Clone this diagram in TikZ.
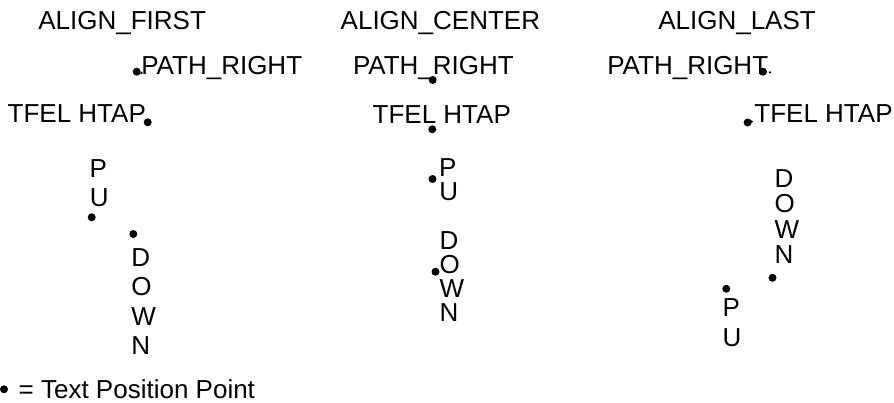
\documentclass[tikz,border=0pt]{standalone}
\usepackage{fontspec}
\setmainfont{Liberation Sans}
\begin{document}
\begin{tikzpicture}[x=1pt,y=-1pt,
  txt/.style={inner sep=0pt, outer sep=0pt, anchor=base west, font=\fontsize{26}{30}\selectfont},
  tpt/.style={circle, fill=black, draw=none, inner sep=0pt, minimum size=8pt},
  tiny/.style={circle, fill=black, draw=none, inner sep=0pt, minimum size=2.6pt}]
\useasboundingbox[fill=white] (0,0) rectangle (894,402);
% headings
\node[txt] (hF) at (38.3,29.3) {ALIGN\_FIRST};
\node[txt] (hC) at (340.7,29.3) {ALIGN\_CENTER};
\node[txt] (hL) at (658.3,29.3) {ALIGN\_LAST};
% ---------- ALIGN_FIRST ----------
\node[txt] (fR) at (141.3,74) {PATH\_RIGHT};
\node[tpt] (fRd) at (136.7,71.7) {};
\node[tiny] (fRp) at (141.5,73) {};
\node[txt] (fL) at (7.7,122.7) {TFEL HTAP};
\node[tpt] (fLd) at (147.7,122.3) {};
\node[txt] (fU1) at (89.7,177) {P};
\node[txt] (fU2) at (89.9,206.3) {U};
\node[tpt] (fUd) at (91.7,217.3) {};
\node[tpt] (fDd) at (133.3,234) {};
\node[txt] (fD1) at (131.3,266.5) {D};
\node[txt] (fD2) at (131.3,295.8) {O};
\node[txt] (fD3) at (131.3,325) {W};
\node[txt] (fD4) at (131.3,354.3) {N};
% ---------- ALIGN_CENTER ----------
\node[txt] (cR) at (353,74) {PATH\_RIGHT};
\node[tpt] (cRd) at (432.7,80) {};
\node[txt] (cL) at (372.7,123.3) {TFEL HTAP};
\node[tpt] (cLd) at (432.3,129.3) {};
\node[txt] (cU1) at (439.2,176) {P};
\node[txt] (cU2) at (439.4,200.3) {U};
\node[tpt] (cUd) at (432.5,179) {};
\node[txt] (cD1) at (439.7,249) {D};
\node[txt] (cD2) at (439.7,273) {O};
\node[txt] (cD3) at (439.7,297) {W};
\node[txt] (cD4) at (439.7,321) {N};
\node[tpt] (cDd) at (435.5,271.7) {};
% ---------- ALIGN_LAST ----------
\node[txt] (lR) at (607.3,74) {PATH\_RIGHT};
\node[tpt] (lRd) at (763,71.7) {};
\node[tiny] (lRp) at (770,72.4) {};
\node[txt] (lL) at (754.4,122.7) {TFEL HTAP};
\node[tpt] (lLd) at (747.6,122.5) {};
\node[tiny] (lLp) at (751.6,121.6) {};
\node[txt] (lD1) at (774.7,187) {D};
\node[txt] (lD2) at (774.7,212.5) {O};
\node[txt] (lD3) at (774.7,238) {W};
\node[txt] (lD4) at (774.7,263.5) {N};
\node[tpt] (lDd) at (772.5,277.8) {};
\node[tpt] (lUd) at (726.3,288.8) {};
\node[txt] (lU1) at (722.5,316.7) {P};
\node[txt] (lU2) at (722.7,346) {U};
% ---------- legend ----------
\node[tpt] (kd) at (4,389.3) {};
\node[txt] (kt) at (18.7,398) {= Text Position Point};
\end{tikzpicture}
\end{document}
